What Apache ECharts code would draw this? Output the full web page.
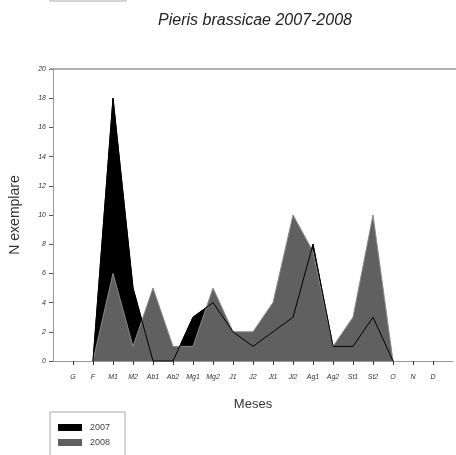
<!DOCTYPE html>
<html>
<head>
<meta charset="utf-8">
<script src="https://cdn.jsdelivr.net/npm/echarts@6/dist/echarts.min.js"></script>
<style>html,body{margin:0;padding:0;background:#fff}#c{width:456px;height:455px}</style>
</head>
<body>
<div id="c"></div>
<script>
// categories (blank entries pad the axis ends)
const months = ['', 'G', 'F', 'M1', 'M2', 'Ab1', 'Ab2', 'Mg1', 'Mg2', 'J1', 'J2', 'Jl1', 'Jl2', 'Ag1', 'Ag2', 'St1', 'St2', 'O', 'N', 'D', ''];
const y2007 = [null, null, 0, 18, 5, 0, 0, 3, 4, 2, 1, 2, 3, 8, 1, 1, 3, 0, null, null, null];
const y2008 = [null, null, 0, 6, 1, 5, 1, 1, 5, 2, 2, 4, 10, 7.5, 1, 3, 10, 0, null, null, null];
const yTicks = [0, 2, 4, 6, 8, 10, 12, 14, 16, 18, 20];

const chart = echarts.init(document.getElementById('c'));
const lbl = {fontFamily: 'Liberation Sans, Arial, sans-serif', fontStyle: 'italic', fontSize: 7, color: '#333'};
chart.setOption({
  animation: false,
  title: {
    text: 'Pieris brassicae 2007-2008', left: 250, top: 8, textAlign: 'center',
    textStyle: {fontFamily: 'Liberation Sans, Arial, sans-serif', fontStyle: 'italic', fontWeight: 'normal', fontSize: 16, color: '#222'}
  },
  grid: {left: 50, right: -2, top: 69, bottom: 94, show: false},
  legend: {
    orient: 'vertical', left: 58, top: 423, width: 60, itemWidth: 24, itemGap: 6, itemHeight: 7,
    data: ['2007', '2008'], icon: 'rect', padding: 0,
    textStyle: {fontFamily: 'Liberation Sans, Arial, sans-serif', fontSize: 9, color: '#444', padding: [0, 0, 0, 3]}
  },
  graphic: [
    {type: 'rect', shape: {x: 50, y: 412, width: 75, height: 60}, style: {fill: 'none', stroke: '#aaa', lineWidth: 1}, z: -1},
    {type: 'rect', shape: {x: 50, y: -20, width: 76, height: 21}, style: {fill: 'none', stroke: '#aaa', lineWidth: 1}, z: -1},
    {type: 'line', shape: {x1: 50, y1: 69, x2: 456, y2: 69}, style: {stroke: '#999', lineWidth: 1.5}, z: 10}
  ],
  xAxis: {
    type: 'category', data: months, boundaryGap: false,
    name: 'Meses', nameLocation: 'middle', nameGap: 37,
    nameTextStyle: {fontFamily: 'Liberation Sans, Arial, sans-serif', fontSize: 13, color: '#333'},
    axisLine: {show: true, lineStyle: {color: '#999'}},
    axisTick: {show: true, length: 4, interval: (i, v) => v !== '', lineStyle: {color: '#333'}},
    axisLabel: Object.assign({interval: 0, margin: 13}, lbl),
    splitLine: {show: false}
  },
  yAxis: {
    type: 'value', min: 0, max: 20, interval: 2,
    name: 'N exemplare', nameLocation: 'middle', nameGap: 31, nameRotate: 90,
    nameTextStyle: {fontFamily: 'Liberation Sans, Arial, sans-serif', fontSize: 14, color: '#333'},
    axisLine: {show: true, lineStyle: {color: '#999'}},
    axisTick: {show: true, length: 4, lineStyle: {color: '#555'}},
    axisLabel: Object.assign({margin: 7, formatter: v => yTicks.includes(v) ? String(v) : ''}, lbl),
    splitLine: {show: false}
  },
  series: [
    {name: '2007', type: 'line', data: y2007, symbol: 'none', z: 2,
     itemStyle: {color: '#000'}, lineStyle: {color: '#000', width: 1}, areaStyle: {color: '#000', opacity: 1}},
    {name: '2008', type: 'line', data: y2008, symbol: 'none', z: 3,
     itemStyle: {color: '#606060'}, lineStyle: {color: '#8a8a8a', width: 1}, areaStyle: {color: '#606060', opacity: 1}},
    {name: '2007 line', type: 'line', data: y2007, symbol: 'none', z: 4,
     lineStyle: {color: '#000', width: 1}, itemStyle: {color: '#000'}}
  ]
});
</script>
</body>
</html>
